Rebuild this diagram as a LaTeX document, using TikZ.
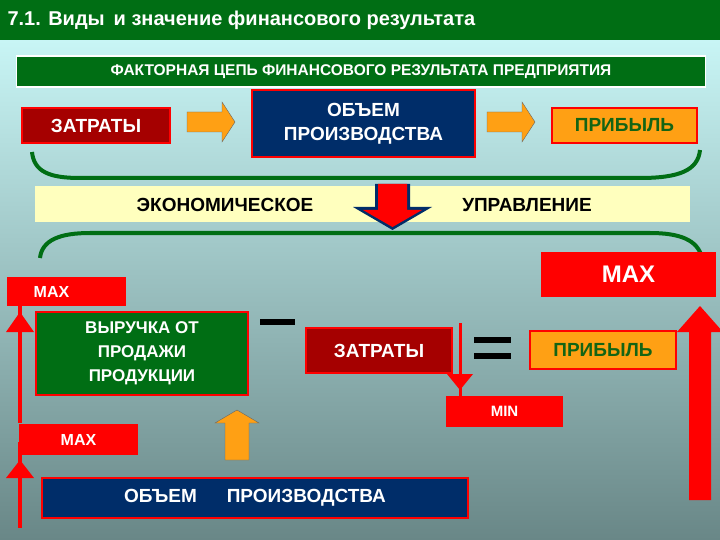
\documentclass[tikz,border=0pt]{standalone}
\usepackage{fontspec}
\setmainfont{Liberation Sans}
\definecolor{dgreen}{RGB}{0,110,20}
\definecolor{bgtop}{RGB}{200,245,245}
\definecolor{bgbot}{RGB}{105,135,135}
\definecolor{dred}{RGB}{165,0,0}
\definecolor{navy}{RGB}{0,45,105}
\definecolor{orng}{RGB}{255,160,20}
\definecolor{yel}{RGB}{255,255,190}
\definecolor{txtgreen}{RGB}{20,100,20}
\tikzset{
 box/.style={draw=red,line width=2pt,minimum height=#1,inner sep=0pt,align=center,font=\bfseries\fontsize{19}{24}\selectfont},
 redbox/.style={fill=red,inner sep=0pt,text=white,font=\bfseries\fontsize{16}{18}\selectfont},
 brace/.style={draw=dgreen,line width=4pt},
 oarr/.style={draw=black!60,fill=orng},
}
\begin{document}
\begin{tikzpicture}[x=1pt,y=-1pt]
\useasboundingbox (0,0) rectangle (720,540);
\shade[top color=bgtop,bottom color=bgbot] (0,40) rectangle (720,540);
\fill[dgreen] (0,0) rectangle (720,40);
\node[anchor=west,text=white,font=\bfseries\fontsize{20}{24}\selectfont] (title) at (4,20) {7.1. Виды\, и значение финансового результата};
\node[draw=white,fill=dgreen,line width=1.5pt,minimum width=689pt,minimum height=31pt,text=white,font=\bfseries\fontsize{15.5}{18}\selectfont] (sub) at (361,71.5) {ФАКТОРНАЯ ЦЕПЬ ФИНАНСОВОГО РЕЗУЛЬТАТА ПРЕДПРИЯТИЯ};
% top chain
\node[box=35pt,minimum width=148pt,fill=dred,text=white] (z1) at (96,125.5) {ЗАТРАТЫ};
\node[box=67pt,minimum width=223pt,fill=navy,text=white] (o1) at (363.5,123.5) {ОБЪЕМ\\ПРОИЗВОДСТВА};
\node[box=35pt,minimum width=145pt,fill=orng,text=txtgreen] (p1) at (624.5,125.5) {ПРИБЫЛЬ};
\draw[oarr] (187,112) -- (222,112) -- (222,102) -- (235,122) -- (222,142) -- (222,132) -- (187,132) -- cycle;
\draw[oarr] (487,112) -- (522,112) -- (522,102) -- (535,122) -- (522,142) -- (522,132) -- (487,132) -- cycle;
% braces
\draw[brace] (32,152) .. controls (34,172) and (50,178) .. (80,178) -- (640,178) .. controls (680,178) and (698,170) .. (700,150);
\node[fill=yel,minimum width=655pt,minimum height=36pt] (band) at (362.5,204) {};
\node[font=\bfseries\fontsize{19}{22}\selectfont] (ek) at (225,205) {ЭКОНОМИЧЕСКОЕ};
\node[font=\bfseries\fontsize{19}{22}\selectfont] (up) at (527,205) {УПРАВЛЕНИЕ};
\draw[brace] (40,258) .. controls (42,240) and (60,233) .. (90,233) -- (650,233) .. controls (680,233) and (698,240) .. (702,258);
\fill[navy] (375,184) -- (410,184) -- (410,207) -- (432,207) -- (392.5,230) -- (353,207) -- (375,207) -- cycle;
\fill[red] (378,184) -- (407,184) -- (407,210) -- (422,210) -- (392.5,227) -- (363,210) -- (378,210) -- cycle;
% lower part
\node[redbox,minimum width=175pt,minimum height=45pt,font=\bfseries\fontsize{24}{28}\selectfont] (mx1) at (628.5,274.5) {MAX};
\node[redbox,minimum width=119pt,minimum height=29pt] (mx2) at (66.5,291.5) {\hspace*{-30pt}MAX};
\node[box=83pt,minimum width=212pt,fill=dgreen,text=white,font=\bfseries\fontsize{17}{24}\selectfont] (v) at (142,353.5) {ВЫРУЧКА ОТ\\ПРОДАЖИ\\ПРОДУКЦИИ};
\node[box=45pt,minimum width=146pt,fill=dred,text=white] (z2) at (379,350.5) {ЗАТРАТЫ};
\node[box=38pt,minimum width=146pt,fill=orng,text=txtgreen] (p2) at (603,350) {ПРИБЫЛЬ};
\node[redbox,minimum width=117pt,minimum height=31pt,font=\bfseries\fontsize{15}{17}\selectfont] (mn) at (504.5,411.5) {MIN};
\node[redbox,minimum width=119pt,minimum height=31pt] (mx3) at (78.5,439.5) {MAX};
\node[box=40pt,minimum width=426pt,fill=navy,text=white] (o2) at (255,498) {ОБЪЕМ\hspace{30pt}ПРОИЗВОДСТВА};
\fill (260,319) rectangle (295,325);
\fill (474,337) rectangle (511,343);
\fill (474,353) rectangle (511,359);
% arrows
\coordinate (l1b) at (20,423); \coordinate (l1t) at (20,312);
\fill[red] ([xshift=-2pt]l1b) rectangle ([xshift=2pt,yshift=20pt]l1t);
\fill[red] (l1t) -- ([shift={(-14,20)}]l1t) -- ([shift={(14,20)}]l1t) -- cycle;
\coordinate (l2b) at (20,528); \coordinate (l2t) at (20,460);
\fill[red] ([xshift=-2pt]l2b) rectangle ([xshift=2pt,yshift=18pt]l2t);
\fill[red] (l2t) -- ([shift={(-14,18)}]l2t) -- ([shift={(14,18)}]l2t) -- cycle;
\coordinate (db) at (460,390); \coordinate (dt) at (460,323);
\fill[red] ([xshift=-1.5pt]dt) rectangle ([xshift=1.5pt,yshift=-16pt]db);
\fill[red] (db) -- ([shift={(-13,-16)}]db) -- ([shift={(13,-16)}]db) -- cycle;
\fill[red] (689,500) -- (711,500) -- (711,332) -- (723,332) -- (700,306) -- (677,332) -- (689,332) -- cycle;
\draw[oarr] (225,460) -- (249,460) -- (249,423) -- (259,423) -- (237,410) -- (215,423) -- (225,423) -- cycle;
\end{tikzpicture}
\end{document}
